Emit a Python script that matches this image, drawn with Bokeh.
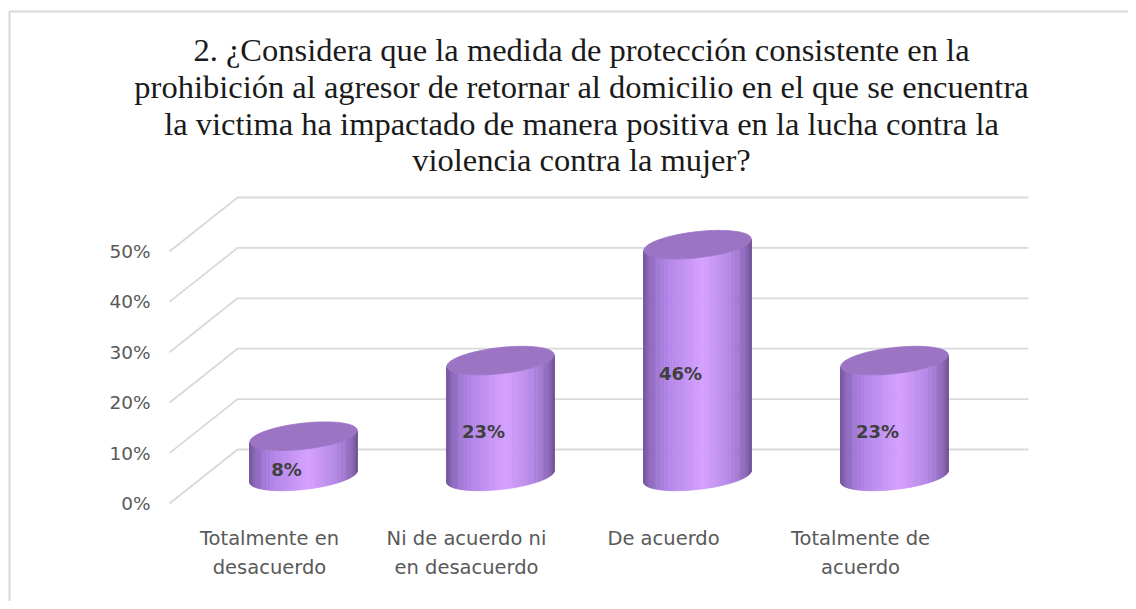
import math
import numpy as np
from bokeh.plotting import figure
from bokeh.models import Label
from bokeh.core.properties import value
from bokeh.embed import file_html
from bokeh.resources import INLINE

# ---------------- data ----------------
categories = ["Totalmente en\ndesacuerdo", "Ni de acuerdo ni\nen desacuerdo",
              "De acuerdo", "Totalmente de\nacuerdo"]
values = [0.08, 0.23, 0.46, 0.23]
value_labels = ["8%", "23%", "46%", "23%"]
tick_values = [0.0, 0.1, 0.2, 0.3, 0.4, 0.5]
tick_labels = ["0%", "10%", "20%", "30%", "40%", "50%"]
title_lines = [
    "2. ¿Considera que la medida de protección consistente en la",
    "prohibición al agresor de retornar al domicilio en el que se encuentra",
    "la victima ha impactado de manera positiva en la lucha contra la",
    "violencia contra la mujer?",
]

# ---------------- layout (pixels) ----------------
W, H = 1128, 601
PX_X = 197.0     # pixels per category step
PX_Y = 504.0     # pixels per 100 %
X0_PX = 269.0    # canvas x of first category (front plane)
Y0_PX = 98.0     # canvas y (from bottom) of 0 % (front plane)

x_start, x_end = -X0_PX / PX_X, (W - X0_PX) / PX_X
y_start, y_end = -Y0_PX / PX_Y, (H - Y0_PX) / PX_Y

DX = 68.0 / PX_X          # depth offset
DY = 54.0 / PX_Y
XL = -100.0 / PX_X        # front-left edge of the side wall
XR = 759.0 / PX_X         # right end of back wall

p = figure(width=W, height=H, x_range=(x_start, x_end), y_range=(y_start, y_end),
           output_backend="svg", toolbar_location=None,
           x_axis_location=None, y_axis_location=None,
           min_border=0, min_border_left=0, min_border_right=0,
           min_border_top=0, min_border_bottom=0)
p.grid.visible = False
p.outline_line_color = None
p.background_fill_color = "white"
p.border_fill_color = "white"

# chart border (left and top)
bx = x_start + 9.0 / PX_X
by = y_end - 11.0 / PX_Y
p.line([bx, bx, x_end], [y_start, by, by], line_color="#d9d9d9", line_width=2)

# gridlines: side wall diagonal + back wall horizontal
gx, gy = [], []
for v in tick_values:
    gx.append([XL, XL + DX, XR])
    gy.append([v, v + DY, v + DY])
p.multi_line(gx, gy, line_color="#d9d9d9", line_width=1.8)

# y tick labels
p.text(x=[XL - 19.0 / PX_X] * len(tick_values), y=tick_values, text=tick_labels,
       text_font=value("DejaVu Sans"), text_font_size="18.5px", text_color="#595959",
       text_align="right", text_baseline="middle")

# category labels
p.text(x=list(range(len(categories))), y=[-23.0 / PX_Y] * len(categories), text=categories,
       text_font=value("DejaVu Sans"), text_font_size="19.5px", text_color="#595959",
       text_align="center", text_baseline="top", text_line_height=1.3)

# ---------------- cylinders ----------------
A_PX, B_PX = 54.0, 13.0
TH = math.radians(6.5)
DELTA = math.atan(B_PX / A_PX * math.tan(TH))

stops_u = [0.0, 0.06, 0.2, 0.55, 0.8, 0.94, 1.0]
stops_c = [(0x76, 0x58, 0x9c), (0x8e, 0x6a, 0xbe), (0xae, 0x82, 0xe6),
           (0xd6, 0xa0, 0xff), (0xb4, 0x88, 0xe6), (0x92, 0x6c, 0xbe), (0x74, 0x56, 0x98)]


def grad(u):
    r = int(round(np.interp(u, stops_u, [c[0] for c in stops_c])))
    g = int(round(np.interp(u, stops_u, [c[1] for c in stops_c])))
    b = int(round(np.interp(u, stops_u, [c[2] for c in stops_c])))
    return "#%02x%02x%02x" % (r, g, b)


def ell_px(t):
    xp = A_PX * np.cos(t) * math.cos(TH) - B_PX * np.sin(t) * math.sin(TH)
    yp = A_PX * np.cos(t) * math.sin(TH) + B_PX * np.sin(t) * math.cos(TH)
    return xp, yp


N = 90
ts = np.linspace(math.pi - DELTA, 2 * math.pi - DELTA, N + 1)
exp_, eyp = ell_px(ts)
xmin, xmax = exp_.min(), exp_.max()

sx, sy, sc = [], [], []
tx, ty = [], []
full_t = np.linspace(0, 2 * math.pi, 121)
fxp, fyp = ell_px(full_t)
for i, v in enumerate(values):
    cx = i + DX / 2
    base = DY / 2
    top = v + DY / 2
    for k in range(N):
        x1 = cx + exp_[k] / PX_X
        x2 = cx + exp_[k + 1] / PX_X
        yb1 = base + eyp[k] / PX_Y
        yb2 = base + eyp[k + 1] / PX_Y
        yt1 = top + eyp[k] / PX_Y
        yt2 = top + eyp[k + 1] / PX_Y
        sx.append([x1, x2, x2, x1])
        sy.append([yb1, yb2, yt2, yt1])
        u = ((exp_[k] + exp_[k + 1]) / 2 - xmin) / (xmax - xmin)
        sc.append(grad(u))
    tx.append(list(cx + fxp / PX_X))
    ty.append(list(top + fyp / PX_Y))

p.patches(sx, sy, fill_color=sc, line_color=sc, line_width=0.6)
p.patches(tx, ty, fill_color="#9c74c4", line_color="#9c74c4", line_width=0.8)

# data labels
p.text(x=[i + DX / 2 - 17.0 / PX_X for i in range(len(values))],
       y=[v / 2 + DY / 2 - 13.0 / PX_Y for v in values], text=value_labels,
       text_font=value("DejaVu Sans"), text_font_size="18px", text_font_style="bold",
       text_color="#404040", text_align="center", text_baseline="middle")

# title
title_y = [552, 515, 478, 442]
for line, ty_ in zip(title_lines, title_y):
    p.add_layout(Label(x=581, y=ty_, x_units="screen", y_units="screen", text=line,
                       text_font="Liberation Serif", text_font_size="32.5px",
                       text_color="#1a1a1a", text_align="center", text_baseline="middle"))

open("out.html", "w").write(file_html(p, INLINE))
